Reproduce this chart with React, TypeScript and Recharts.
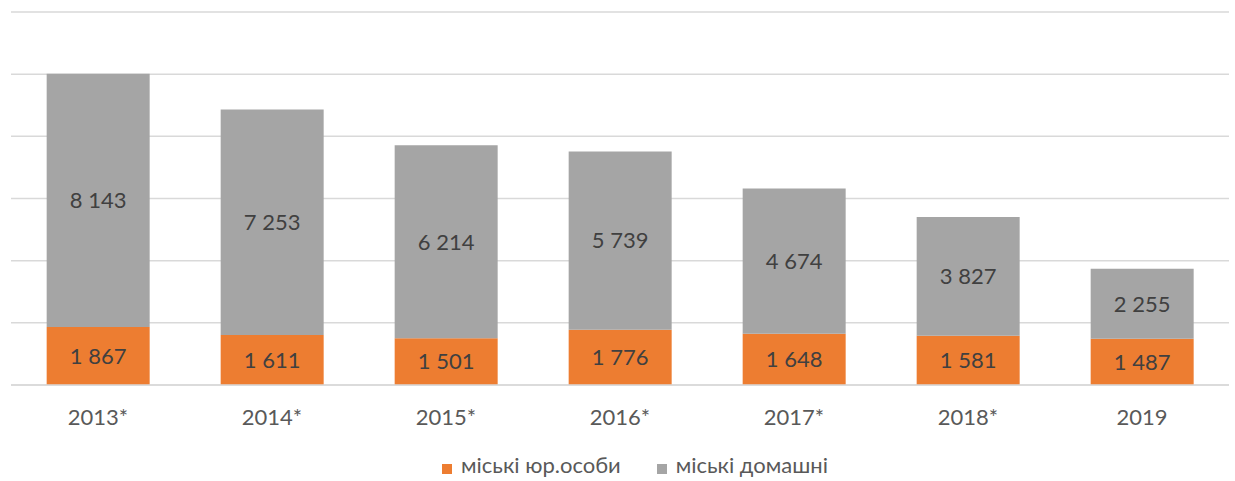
import { BarChart, Bar, XAxis, YAxis, CartesianGrid, Legend, LabelList } from 'recharts';

const YEARS = ['2013*', '2014*', '2015*', '2016*', '2017*', '2018*', '2019'];
const LEGAL = [1867, 1611, 1501, 1776, 1648, 1581, 1487];
const HOUSEHOLD = [8143, 7253, 6214, 5739, 4674, 3827, 2255];
const Y_TICKS = [0, 2000, 4000, 6000, 8000, 10000, 12000];

const FONT = 'Lato, "Open Sans", sans-serif';
const FS = 22;

const fmt = (v: any) => String(v).replace(/\B(?=(\d{3})+(?!\d))/g, ' ');

export default function App() {
  const data = YEARS.map((year, i) => ({
    year,
    legal: LEGAL[i],
    household: HOUSEHOLD[i],
  }));

  return (
    <div style={{ position: 'absolute', left: 0, top: 0, background: '#fff', fontFamily: FONT }}>
      <BarChart
        width={1235}
        height={481}
        data={data}
        margin={{ top: 12, right: 6, left: 11, bottom: 0 }}
        barCategoryGap="20.5%"
      >
        <CartesianGrid vertical={false} stroke="#d9d9d9" strokeWidth={1.5} />
        <YAxis hide domain={[0, 12000]} ticks={Y_TICKS} />
        <XAxis
          dataKey="year"
          axisLine={{ stroke: '#d9d9d9', strokeWidth: 1.5 }}
          tickLine={false}
          tickSize={6}
          tickMargin={18}
          height={66}
          tick={{ fill: '#595959', fontSize: FS, fontFamily: FONT }}
        />
        <Legend
          verticalAlign="bottom"
          height={30}
          iconType="square"
          iconSize={10}
          wrapperStyle={{ paddingLeft: 20 }}
          itemSorter={(item: any) => (item.dataKey === 'legal' ? 0 : 1)}
          formatter={(v, _entry, i) => (
            <span
              style={{
                color: '#595959',
                fontSize: FS,
                fontFamily: FONT,
                marginLeft: 5,
                marginRight: i === 0 ? 26 : 0,
              }}
            >
              {v}
            </span>
          )}
        />
        <Bar dataKey="legal" name="міські юр.особи" stackId="a" fill="#ED7D31" isAnimationActive={false}>
          <LabelList dataKey="legal" position="center" formatter={fmt} fill="#404040" fontSize={FS} fontFamily={FONT} />
        </Bar>
        <Bar dataKey="household" name="міські домашні" stackId="a" fill="#A5A5A5" isAnimationActive={false}>
          <LabelList dataKey="household" position="center" formatter={fmt} fill="#404040" fontSize={FS} fontFamily={FONT} />
        </Bar>
      </BarChart>
    </div>
  );
}
